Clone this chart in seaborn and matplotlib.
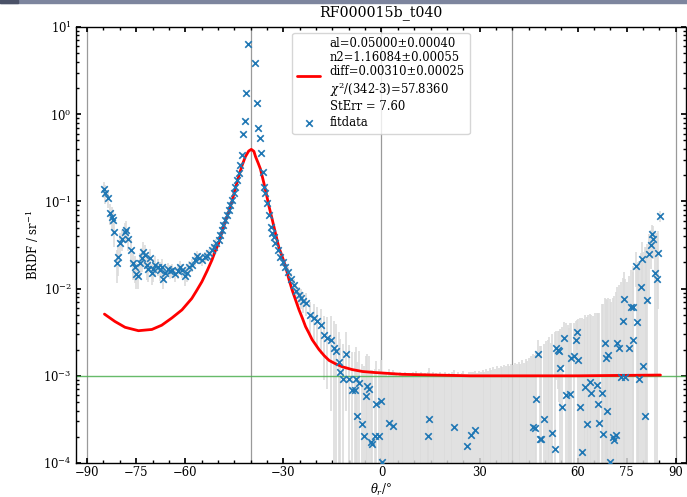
import numpy as np
import pandas as pd
import matplotlib
matplotlib.use("Agg")
import matplotlib.pyplot as plt
from matplotlib.ticker import MultipleLocator, FixedLocator, LogLocator, NullFormatter
from matplotlib.patches import Rectangle
import seaborn as sns

# ---------------- data ----------------
# left wing (measured points)
theta1 = [-84.8, -84.4, -83.7, -83.0, -82.5, -82.0, -81.7, -81.0, -80.7, -80.0,
          -79.4, -78.4, -78.1, -77.4, -76.5, -76.1, -75.5, -75.2, -74.5, -73.8,
          -73.3, -72.8, -72.3, -71.8, -71.3, -70.8, -70.2, -69.7, -69.2, -68.4,
          -67.7, -67.2, -66.7, -66.1, -65.3, -64.6, -63.9, -63.1, -62.3, -61.6,
          -61.0, -60.0, -59.5, -58.8, -58.0, -57.0, -56.4, -55.7, -54.9, -54.1,
          -53.4, -52.7, -51.8, -51.1, -50.5, -49.8, -49.3, -48.8, -48.3, -47.8,
          -47.2, -46.7, -46.2, -45.7, -45.2, -44.7, -44.2, -43.7, -43.2, -42.7]
brdf1 = [0.138, 0.124, 0.108, 0.074, 0.067, 0.061, 0.045, 0.0195, 0.023, 0.033,
         0.0367, 0.045, 0.047, 0.037, 0.028, 0.0195, 0.0175, 0.0148, 0.0138, 0.0195,
         0.0224, 0.0265, 0.0243, 0.0186, 0.017, 0.0224, 0.015, 0.017, 0.0186, 0.0178,
         0.0163, 0.0178, 0.0128, 0.015, 0.0166, 0.0158, 0.0163, 0.0148, 0.0158, 0.0178,
         0.0163, 0.0138, 0.015, 0.0178, 0.0186, 0.021, 0.0237, 0.0224, 0.021, 0.023,
         0.0237, 0.0254, 0.028, 0.030, 0.0336, 0.036, 0.041, 0.047, 0.054, 0.061,
         0.070, 0.079, 0.091, 0.104, 0.124, 0.148, 0.176, 0.21, 0.26, 0.34]
err1 = [0.03, 0.03, 0.025, 0.02, 0.02, 0.018, 0.015, 0.008, 0.009, 0.01,
        0.01, 0.012, 0.012, 0.01, 0.009, 0.007, 0.006, 0.005, 0.004, 0.006,
        0.007, 0.008, 0.007, 0.006, 0.005, 0.006, 0.004, 0.005, 0.005, 0.004,
        0.004, 0.004, 0.003, 0.003, 0.003, 0.003, 0.003, 0.003, 0.003, 0.003,
        0.003, 0.003, 0.003, 0.003, 0.003, 0.003, 0.003, 0.003, 0.003, 0.003,
        0.003, 0.003, 0.003, 0.003, 0.003, 0.003, 0.003, 0.004, 0.004, 0.004,
        0.005, 0.005, 0.006, 0.006, 0.007, 0.008, 0.009, 0.01, 0.012, 0.015]

# specular peak and right wing
theta2 = [-42.2, -41.8, -41.4, -40.8, -38.7, -38.2, -37.7, -37.2, -36.7, -36.2,
          -35.8, -35.5, -35.0, -34.4, -33.9, -33.4, -32.9, -32.4, -31.6, -30.9,
          -30.2, -29.4, -28.5, -27.8, -26.8, -26.0, -25.3, -24.6, -23.9, -23.2]
brdf2 = [0.60, 0.84, 1.74, 6.4, 3.9, 1.33, 0.70, 0.53, 0.356, 0.22,
         0.147, 0.124, 0.095, 0.070, 0.051, 0.043, 0.039, 0.033, 0.0277, 0.023,
         0.020, 0.0178, 0.0156, 0.013, 0.011, 0.0095, 0.0085, 0.0078, 0.0072, 0.0068]
err2 = [0.02, 0.03, 0.05, 0.1, 0.08, 0.04, 0.02, 0.02, 0.012, 0.008,
        0.005, 0.004, 0.003, 0.003, 0.002, 0.002, 0.002, 0.002, 0.002, 0.002,
        0.002, 0.002, 0.002, 0.002, 0.002, 0.002, 0.002, 0.002, 0.002, 0.002]

# transition to the noise floor
theta3 = [-21.7, -20.6, -19.6, -18.6, -17.6, -16.6, -15.5, -14.5, -14.0, -13.0,
          -12.8, -11.8, -10.9, -9.9, -8.9, -8.2, -7.9, -7.4, -6.8, -5.8,
          -5.3, -4.8, -4.3, -3.8, -3.3, -2.8, -1.9, -1.7, -0.9, -0.2]
brdf3 = [0.0050, 0.0046, 0.0042, 0.0038, 0.0029, 0.0027, 0.0026, 0.0021, 0.0019, 0.00145,
         0.00112, 0.00093, 0.0018, 0.00093, 0.00069, 0.00068, 0.00092, 0.00035, 0.00083, 0.00028,
         0.000204, 0.00058, 0.00076, 0.0007, 0.000175, 0.000165, 0.000203, 0.00048, 0.000203, 0.00052]
err3 = [0.002, 0.002, 0.002, 0.002, 0.002, 0.002, 0.0022, 0.0022, 0.002, 0.0017,
        0.0015, 0.0014, 0.0014, 0.0013, 0.0012, 0.0012, 0.0012, 0.0011, 0.0011, 0.0011,
        0.0011, 0.0011, 0.0010, 0.0010, 0.0010, 0.0010, 0.0010, 0.0010, 0.0010, 0.0010]

# sparse points above 1e-4 between 0 and 45 deg
theta4 = [0.3, 2.4, 3.4, 14.3, 14.6, 22.3, 26.2, 27.4, 28.7]
brdf4 = [0.000102, 0.00029, 0.000265, 0.000203, 0.00032, 0.00026, 0.000155, 0.00021, 0.00024]
err4 = [0.001, 0.0009, 0.0009, 0.0009, 0.0009, 0.0009, 0.0009, 0.0009, 0.0009]

# grazing region
theta5 = [46.3, 46.8, 47.3, 47.9, 48.4, 48.9, 49.7, 52.2, 53.0, 53.5,
          54.0, 54.3, 54.7, 55.3, 55.7, 56.4, 57.6, 58.1, 58.8, 59.4,
          59.8, 60.1, 60.6, 61.3, 62.2, 62.8, 63.7, 64.2, 65.8, 66.3,
          66.6, 67.3, 67.6, 68.3, 68.6, 69.0, 69.3, 70.0, 70.7, 71.1,
          71.7, 72.1, 72.7, 73.1, 73.7, 74.2, 74.5, 75.8, 76.3, 76.8,
          77.0, 77.7, 78.2, 78.8, 79.2, 79.8, 80.1, 80.6, 81.3, 81.8,
          82.3, 82.6, 83.1, 83.6, 84.1, 84.7, 85.2]
brdf5 = [0.00026, 0.00025, 0.00054, 0.0018, 0.00019, 0.00019, 0.00032, 0.00022, 0.000145, 0.0021,
         0.0020, 0.0019, 0.00123, 0.00044, 0.0027, 0.0006, 0.00062, 0.0016, 0.00168, 0.0026,
         0.0032, 0.0015, 0.00044, 0.000135, 0.00075, 0.00028, 0.00085, 0.00063, 0.00078, 0.00047,
         0.00029, 0.00063, 0.000215, 0.0024, 0.0016, 0.0004, 0.00175, 0.000104, 0.0002, 0.000184,
         0.00021, 0.0024, 0.0021, 0.00096, 0.0042, 0.0076, 0.00096, 0.0021, 0.0062, 0.0026,
         0.0062, 0.0183, 0.0041, 0.00093, 0.0103, 0.0218, 0.0013, 0.00035, 0.0074, 0.0247,
         0.032, 0.042, 0.0367, 0.0152, 0.013, 0.0259, 0.068]
err5 = [0.0015, 0.0015, 0.0013, 0.0008, 0.0020, 0.0020, 0.0020, 0.0028, 0.0030, 0.0012,
        0.0013, 0.0014, 0.0022, 0.0032, 0.0014, 0.0034, 0.0034, 0.0024, 0.0024, 0.0016,
        0.0012, 0.0030, 0.0042, 0.0045, 0.0042, 0.0045, 0.0042, 0.0044, 0.0045, 0.0048,
        0.0050, 0.0060, 0.0065, 0.0055, 0.0060, 0.0070, 0.0060, 0.0075, 0.0075, 0.0080,
        0.0090, 0.0080, 0.0090, 0.0110, 0.0090, 0.0080, 0.0120, 0.0120, 0.0100, 0.0130,
        0.0120, 0.0080, 0.0150, 0.0200, 0.0150, 0.0120, 0.0250, 0.0300, 0.0250, 0.0180,
        0.0150, 0.0120, 0.0150, 0.0280, 0.0300, 0.0200, 0.0100]

# error bars of points whose value lies below the axis (theta, upper end of bar)
hidden_bars = [(0.8, 1.05e-3), (1.4, 1.1e-3), (1.9, 1.0e-3), (2.9, 1.08e-3), (3.9, 1.12e-3),
               (4.5, 1.05e-3), (5.1, 1.0e-3), (5.6, 1.1e-3), (6.2, 1.06e-3), (6.7, 1.02e-3),
               (7.3, 1.12e-3), (7.8, 1.04e-3), (8.4, 1.08e-3), (8.9, 1.0e-3), (9.5, 1.1e-3),
               (10.0, 1.05e-3), (10.6, 1.15e-3), (11.1, 1.02e-3), (11.7, 1.06e-3), (12.2, 1.1e-3),
               (12.8, 1.03e-3), (13.3, 1.08e-3), (13.9, 1.0e-3), (15.1, 1.06e-3), (15.7, 1.12e-3),
               (16.2, 1.02e-3), (16.8, 1.08e-3), (17.3, 1.05e-3), (17.9, 1.1e-3), (18.4, 1.0e-3),
               (19.0, 1.06e-3), (19.5, 1.12e-3), (20.1, 1.04e-3), (20.6, 1.08e-3), (21.2, 1.02e-3),
               (21.7, 1.1e-3), (22.8, 1.06e-3), (23.4, 1.12e-3), (23.9, 1.04e-3), (24.5, 1.08e-3),
               (25.0, 1.15e-3), (25.6, 1.05e-3), (26.7, 1.1e-3), (27.9, 1.12e-3), (29.2, 1.08e-3),
               (29.8, 1.15e-3), (30.3, 1.1e-3), (30.9, 1.18e-3), (31.4, 1.12e-3), (32.0, 1.2e-3),
               (32.5, 1.15e-3), (33.1, 1.22e-3), (33.6, 1.18e-3), (34.2, 1.25e-3), (34.7, 1.2e-3),
               (35.3, 1.28e-3), (35.8, 1.22e-3), (36.4, 1.3e-3), (36.9, 1.25e-3), (37.5, 1.32e-3),
               (38.0, 1.28e-3), (38.6, 1.35e-3), (39.1, 1.3e-3), (39.7, 1.38e-3), (40.2, 1.32e-3),
               (40.8, 1.4e-3), (41.3, 1.35e-3), (41.9, 1.45e-3), (42.4, 1.38e-3), (43.0, 1.5e-3),
               (43.5, 1.42e-3), (44.1, 1.55e-3), (44.6, 1.48e-3), (45.2, 1.6e-3), (45.7, 1.7e-3),
               (50.2, 2.5e-3), (50.8, 2.6e-3), (51.3, 2.8e-3), (51.7, 2.4e-3), (56.9, 3.8e-3),
               (57.2, 3.5e-3), (61.8, 4.5e-3), (63.2, 5.0e-3), (64.7, 4.8e-3), (65.2, 5.2e-3),
               (70.3, 7.0e-3), (75.2, 1.2e-2), (78.5, 2.0e-2), (80.9, 3.0e-2)]

# fitted model curve
fit_theta = [-84.7, -81.5, -78.4, -74.3, -70.2, -67.2, -64.1, -61.0, -58.0, -56.5,
             -54.9, -53.3, -51.8, -50.8, -49.8, -47.8, -46.7, -45.7, -44.7, -43.7,
             -42.6, -41.6, -40.6, -39.8, -39.0, -38.5, -37.7, -37.0, -36.0, -35.2,
             -34.4, -33.4, -32.4, -31.4, -30.3, -29.3, -28.3, -27.3, -26.2, -25.2,
             -24.2, -23.2, -22.2, -21.2, -19.1, -17.5, -16.0, -14.0, -12.0, -9.0,
             -5.8, -2.0, 1.3, 6.4, 16.6, 27.0, 60.0, 85.3]
fit_brdf = [0.0051, 0.0042, 0.0036, 0.00329, 0.0034, 0.0038, 0.0046, 0.0057, 0.0077, 0.0095,
            0.012, 0.016, 0.0214, 0.027, 0.033, 0.058, 0.076, 0.100, 0.14, 0.19,
            0.26, 0.326, 0.378, 0.395, 0.375, 0.326, 0.275, 0.235, 0.165, 0.122,
            0.088, 0.062, 0.043, 0.030, 0.023, 0.0178, 0.0128, 0.0096, 0.0073, 0.0057,
            0.0046, 0.00366, 0.0031, 0.0026, 0.0020, 0.0017, 0.0015, 0.00137, 0.00127, 0.00118,
            0.00112, 0.00109, 0.00107, 0.00104, 0.00102, 0.00100, 0.00100, 0.00102]

ref_lines_x = [-90, -40, 0, 40, 90]
floor_level = 1e-3
x_major = [-90, -75, -60, -30, 0, 30, 60, 75, 90]

fit_label = ("al=0.05000±0.00040\nn2=1.16084±0.00055\ndiff=0.00310±0.00025\n"
             "$\\chi^2$/(342-3)=57.8360\nStErr = 7.60")
title = "RF000015b_t040"

# ---------------- style ----------------
sns.set_theme(style="ticks")
plt.rcParams.update({
    "font.family": ["DejaVu Serif"],
    "mathtext.fontset": "dejavuserif",
    "font.size": 8.4,
    "axes.edgecolor": "black",
    "axes.linewidth": 1.0,
    "xtick.color": "black",
    "ytick.color": "black",
    "xtick.direction": "in",
    "ytick.direction": "in",
    "xtick.top": True,
    "ytick.right": True,
    "xtick.major.size": 3.5,
    "ytick.major.size": 3.5,
    "xtick.minor.size": 2.0,
    "ytick.minor.size": 2.0,
    "xtick.major.pad": 2.5,
    "ytick.major.pad": 3.0,
    "xtick.labelsize": 8.4,
    "ytick.labelsize": 8.4,
    "axes.labelsize": 8.4,
    "axes.labelcolor": "black",
    "text.color": "black",
    "axes.unicode_minus": True,
})

meas = pd.DataFrame({
    "theta": theta1 + theta2 + theta3 + theta4 + theta5,
    "brdf": brdf1 + brdf2 + brdf3 + brdf4 + brdf5,
    "err": err1 + err2 + err3 + err4 + err5,
})
hid = pd.DataFrame(hidden_bars, columns=["theta", "top"])
fit = pd.DataFrame({"theta": fit_theta, "brdf": fit_brdf})

fig = plt.figure(figsize=(6.87, 4.97), dpi=100)
ax = fig.add_axes([0.1106, 0.0684, 0.8879, 0.8773])
ax.set_yscale("log")

# error bars
ax.errorbar(meas["theta"], meas["brdf"], yerr=meas["err"], fmt="none",
            ecolor="#dcdcdc", elinewidth=1.2, capsize=0, zorder=1)
ax.vlines(hid["theta"], 1e-6, hid["top"], colors="#dcdcdc", linewidth=1.2, zorder=1)

# reference lines
for xv in ref_lines_x:
    ax.axvline(xv, color="#9a9a9a", lw=0.9, zorder=0.5)
ax.axhline(floor_level, color="#4caf50", lw=1.0, alpha=0.85, zorder=2)

# fit curve and data
sns.lineplot(data=fit, x="theta", y="brdf", color="red", lw=2.0, ax=ax,
             label=fit_label, sort=False, estimator=None, zorder=3)
sns.scatterplot(data=meas, x="theta", y="brdf", marker="x", color="#1f77b4",
                s=22, linewidth=1.2, ax=ax, label="fitdata", zorder=4)

ax.set_xlim(-93.4, 93.1)
ax.set_ylim(1e-4, 1e1)
ax.xaxis.set_major_locator(FixedLocator(x_major))
ax.xaxis.set_minor_locator(MultipleLocator(5))
ax.yaxis.set_major_locator(LogLocator(base=10))
ax.yaxis.set_minor_locator(LogLocator(base=10, subs=np.arange(2, 10)))
ax.yaxis.set_minor_formatter(NullFormatter())

ax.set_title(title, fontsize=10.2, pad=8)
ax.set_xlabel(r"$\theta_r/°$", labelpad=1.5)
ax.set_ylabel(r"BRDF / sr$^{-1}$", labelpad=2)

h, l = ax.get_legend_handles_labels()
leg = ax.legend(h, l, loc="upper center", fontsize=8.4, framealpha=0.8,
                edgecolor="0.8", fancybox=True, borderaxespad=0.5, labelspacing=0.3)
for t in leg.get_texts():
    t.set_linespacing(1.1)

# screenshot header strip
fig.patches.append(Rectangle((0, 1 - 2.5 / 497), 1, 2.5 / 497, transform=fig.transFigure,
                             color="#7d859e", zorder=10))
fig.patches.append(Rectangle((0, 1 - 3 / 497), 18 / 687, 3 / 497, transform=fig.transFigure,
                             color="#4b5268", zorder=11))

fig.savefig("out.png", dpi=100)
